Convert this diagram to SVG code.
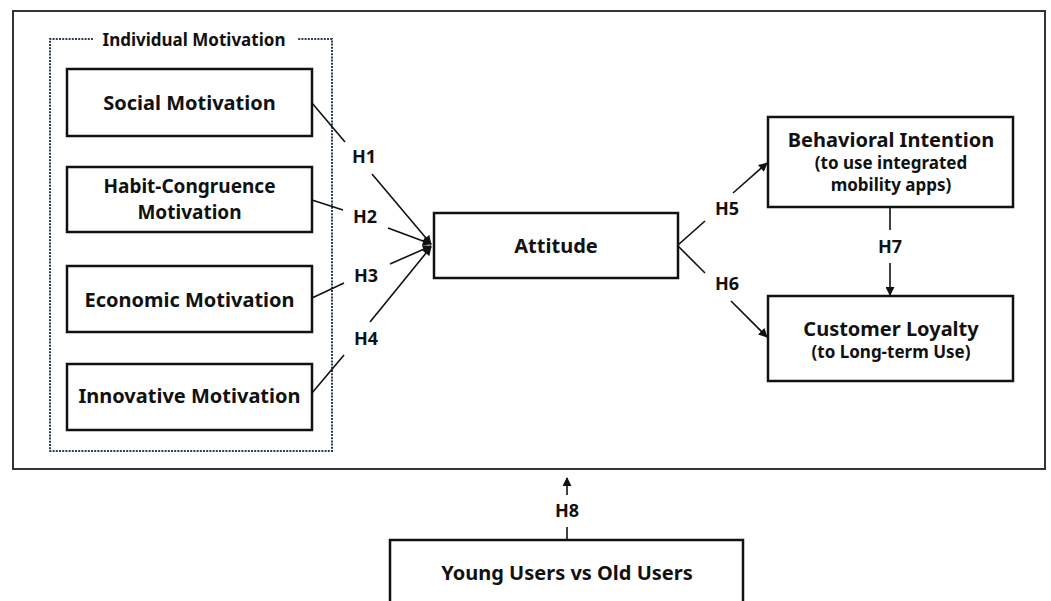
<svg xmlns="http://www.w3.org/2000/svg" width="1051" height="601" viewBox="0 0 1051 601">
<defs>
<style>
.box{fill:#fff;stroke:#111;stroke-width:2.5}
.t{font-family:"Noto Sans","Liberation Sans",sans-serif;font-weight:bold;fill:#111;text-anchor:middle}
.big{font-size:20px}
.mid{font-size:19px}
.sub{font-size:17px}
.h{font-size:18px}
.ttl{font-size:17px}
.ln{stroke:#111;stroke-width:1.6;fill:none}
.dot{fill:none;stroke:#2c3e50;stroke-width:2;stroke-dasharray:2 1.2}
</style>
<marker id="ah" viewBox="0 0 10 10" refX="9" refY="5" markerWidth="10" markerHeight="9" markerUnits="userSpaceOnUse" orient="auto">
<path d="M0,0 L10,5 L0,10 z" fill="#111"/>
</marker>
</defs>
<rect width="1051" height="601" fill="#fff"/>
<rect x="13" y="11" width="1032" height="458" fill="none" stroke="#333" stroke-width="2"/>

<g id="group-individual">
<path class="dot" d="M93,39 H50 V451 H332 V39 H297"/>
<text class="t ttl" x="194" y="46">Individual Motivation</text>
</g>

<g id="connectors">
<line class="ln" x1="312" y1="103" x2="345" y2="142"/>
<line class="ln" x1="372" y1="174" x2="431" y2="244" marker-end="url(#ah)"/>
<line class="ln" x1="312" y1="200" x2="343" y2="210"/>
<line class="ln" x1="388" y1="228" x2="431" y2="244" marker-end="url(#ah)"/>
<line class="ln" x1="312" y1="298" x2="344" y2="283"/>
<line class="ln" x1="390" y1="264" x2="431" y2="246" marker-end="url(#ah)"/>
<line class="ln" x1="312" y1="393" x2="344" y2="355"/>
<line class="ln" x1="370" y1="322" x2="431" y2="247" marker-end="url(#ah)"/>
<line class="ln" x1="678" y1="245" x2="705" y2="221"/>
<line class="ln" x1="733" y1="193" x2="767" y2="163" marker-end="url(#ah)"/>
<line class="ln" x1="678" y1="246" x2="705" y2="273"/>
<line class="ln" x1="731" y1="301" x2="767" y2="337" marker-end="url(#ah)"/>
<line class="ln" x1="890" y1="207" x2="890" y2="230"/>
<line class="ln" x1="890" y1="263" x2="890" y2="295" marker-end="url(#ah)"/>
<line class="ln" x1="567" y1="540" x2="567" y2="527"/>
<line class="ln" x1="567" y1="495" x2="567" y2="478" marker-end="url(#ah)"/>
<text class="t h" x="364" y="163">H1</text>
<text class="t h" x="365" y="223">H2</text>
<text class="t h" x="366" y="282">H3</text>
<text class="t h" x="366" y="345">H4</text>
<text class="t h" x="727" y="215">H5</text>
<text class="t h" x="727" y="290">H6</text>
<text class="t h" x="890" y="253">H7</text>
<text class="t h" x="567" y="517">H8</text>
</g>

<g id="social">
<rect class="box" x="67" y="69" width="245" height="67"/>
<text class="t big" x="189.5" y="110">Social Motivation</text>
</g>
<g id="habit">
<rect class="box" x="67" y="167" width="245" height="65"/>
<text class="t mid" x="189.5" y="193">Habit-Congruence</text>
<text class="t mid" x="189.5" y="219">Motivation</text>
</g>
<g id="economic">
<rect class="box" x="67" y="266" width="245" height="66"/>
<text class="t big" x="189.5" y="307">Economic Motivation</text>
</g>
<g id="innovative">
<rect class="box" x="67" y="364" width="245" height="66"/>
<text class="t big" x="189.5" y="403">Innovative Motivation</text>
</g>
<g id="attitude">
<rect class="box" x="434" y="213" width="244" height="65"/>
<text class="t big" x="556" y="253">Attitude</text>
</g>
<g id="behavioral">
<rect class="box" x="768" y="117" width="245" height="90"/>
<text class="t big" x="891" y="147">Behavioral Intention</text>
<text class="t sub" x="891" y="169">(to use integrated</text>
<text class="t sub" x="891" y="191">mobility apps)</text>
</g>
<g id="loyalty">
<rect class="box" x="768" y="296" width="245" height="85"/>
<text class="t big" x="891" y="336">Customer Loyalty</text>
<text class="t sub" x="891" y="358">(to Long-term Use)</text>
</g>
<g id="users">
<rect class="box" x="390" y="540" width="353" height="80"/>
<text class="t big" x="567" y="580">Young Users vs Old Users</text>
</g>
</svg>
